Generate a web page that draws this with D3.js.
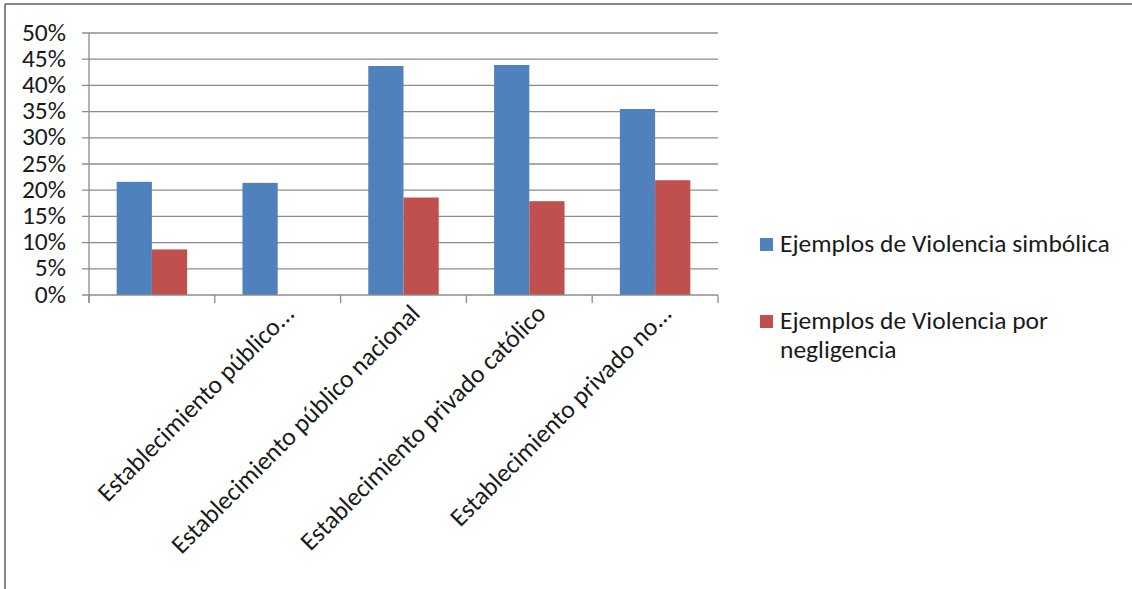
<!DOCTYPE html>
<html>
<head>
<meta charset="utf-8">
<script src="https://cdn.jsdelivr.net/npm/d3@7"></script>
<style>
  body { margin: 0; background: #fff; }
  text { font-family: Carlito, Lato, "Open Sans", sans-serif; fill: #1a1a1a; }
</style>
</head>
<body>
<svg id="chart" width="1132" height="589"></svg>
<script>
var categories = ["", "Establecimiento público...", "Establecimiento público nacional",
                  "Establecimiento privado católico", "Establecimiento privado no..."];
var seriesNames = ["Ejemplos de Violencia simbólica", "Ejemplos de Violencia por negligencia"];
var simbolica = [21.6, 21.4, 43.7, 43.9, 35.5];
var negligencia = [8.7, 0, 18.6, 17.9, 21.9];
var yTicks = [0, 5, 10, 15, 20, 25, 30, 35, 40, 45, 50];
var colors = ["#4F81BD", "#C0504D"];

var fontSize = "25.5px";

var svg = d3.select("#chart"),
    margin = {top: 33, left: 89, right: 414, bottom: 294},
    width = 1132 - margin.left - margin.right,
    height = 589 - margin.top - margin.bottom,
    g = svg.append("g").attr("transform", "translate(" + margin.left + "," + margin.top + ")");

// outer frame (top and left edges visible)
svg.append("line").attr("x1", 5).attr("x2", 1132).attr("y1", 4).attr("y2", 4)
    .attr("stroke", "#878787").attr("stroke-width", 2);
svg.append("line").attr("x1", 5).attr("x2", 5).attr("y1", 4).attr("y2", 589)
    .attr("stroke", "#878787").attr("stroke-width", 2);

var x = d3.scaleBand()
    .domain(d3.range(categories.length))
    .range([0, width])
    .paddingInner(0.44)
    .paddingOuter(0.22);

var x1 = d3.scaleBand()
    .domain([0, 1])
    .range([0, x.bandwidth()]);

var y = d3.scaleLinear()
    .domain([0, 50])
    .range([height, 0]);

// gridlines
g.append("g")
  .selectAll("line")
  .data(yTicks.slice(1))
  .enter().append("line")
    .attr("x1", -7).attr("x2", width)
    .attr("y1", function(d) { return y(d); })
    .attr("y2", function(d) { return y(d); })
    .attr("stroke", "#8c8c8c").attr("stroke-width", 1.3);

// y labels
g.append("g")
  .selectAll("text")
  .data(yTicks)
  .enter().append("text")
    .attr("x", -23)
    .attr("y", function(d) { return y(d); })
    .attr("dy", "0.3em")
    .attr("text-anchor", "end")
    .style("font-size", fontSize)
    .text(function(d) { return d + "%"; });

var groups = [simbolica, negligencia];

groups.forEach(function(vals, s) {
  g.append("g")
    .selectAll("rect")
    .data(vals)
    .enter().append("rect")
      .attr("x", function(d, i) { return x(i) + x1(s); })
      .attr("y", function(d) { return y(d); })
      .attr("width", x1.bandwidth())
      .attr("height", function(d) { return height - y(d); })
      .attr("fill", colors[s]);
});

// axes lines
g.append("line").attr("x1", 0).attr("x2", 0).attr("y1", 0).attr("y2", height + 8)
    .attr("stroke", "#8c8c8c").attr("stroke-width", 1.3);
g.append("line").attr("x1", -7).attr("x2", width).attr("y1", height).attr("y2", height)
    .attr("stroke", "#8c8c8c").attr("stroke-width", 1.3);

var step = x.step();
var tickPos = d3.range(categories.length + 1).map(function(i) {
  return i === 0 ? 0 : x(i - 1) + x.bandwidth() + x.paddingInner() * step / 2;
});
g.append("g")
  .selectAll("line")
  .data(tickPos)
  .enter().append("line")
    .attr("x1", function(d) { return d; }).attr("x2", function(d) { return d; })
    .attr("y1", height).attr("y2", height + 8)
    .attr("stroke", "#8c8c8c").attr("stroke-width", 1.3);

// category labels
g.append("g")
  .selectAll("text")
  .data(categories)
  .enter().append("text")
    .attr("text-anchor", "end")
    .style("font-size", fontSize)
    .attr("transform", function(d, i) {
      var cx = x(i) + x.bandwidth() / 2;
      return "translate(" + (cx + 18) + "," + (height + 20) + ") rotate(-45)";
    })
    .text(function(d) { return d; });

// legend
var legend = svg.append("g").attr("transform", "translate(760,0)");
var legendRows = [[seriesNames[0]], ["Ejemplos de Violencia por", "negligencia"]];
var legendBase = [252, 329];
legendRows.forEach(function(lines, s) {
  legend.append("rect")
    .attr("x", 0).attr("y", legendBase[s] - 14)
    .attr("width", 13).attr("height", 13)
    .attr("fill", colors[s]);
  lines.forEach(function(t, k) {
    legend.append("text")
      .attr("x", 20)
      .attr("y", legendBase[s] + k * 29)
      .style("font-size", fontSize)
      .text(t);
  });
});
</script>
</body>
</html>
